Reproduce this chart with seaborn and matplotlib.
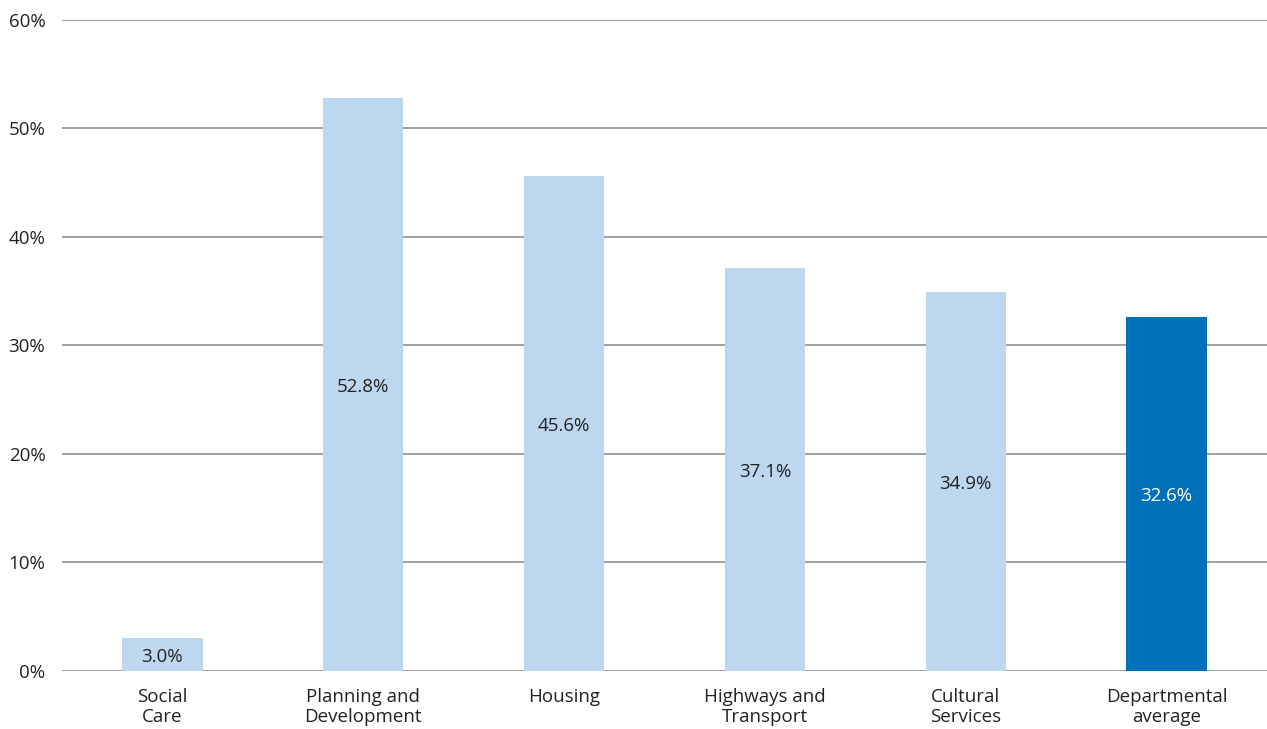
import seaborn as sns
import pandas as pd
import numpy as np
import matplotlib.pyplot as plt
from matplotlib.ticker import PercentFormatter

# Chart values
categories = ['Social\nCare', 'Planning and\nDevelopment', 'Housing',
              'Highways and\nTransport', 'Cultural\nServices', 'Departmental\naverage']
values = [3.0, 52.8, 45.6, 37.1, 34.9, 32.6]
bar_colors = ['#BDD7EE', '#BDD7EE', '#BDD7EE', '#BDD7EE', '#BDD7EE', '#0070BA']
label_colors = ['#222222', '#222222', '#222222', '#222222', '#222222', 'white']

data = pd.DataFrame({'category': categories, 'value': values})

sns.set_style('white')
plt.rcParams['font.family'] = ['Open Sans', 'DejaVu Sans']

fig = plt.figure(figsize=(12.67, 7.29), dpi=100)
ax = fig.add_axes([0.049, 0.0796, 0.951, 0.893])

sns.barplot(data=data, x='category', y='value', hue='category',
            palette=bar_colors, width=0.4, saturation=1, legend=False,
            ax=ax, zorder=3)

for patch in ax.patches:
    patch.set_linewidth(0)

# value labels in the middle of each bar
for i, v in enumerate(values):
    ax.text(i, v / 2, f'{v:.1f}%', ha='center', va='center_baseline',
            fontsize=13.5, color=label_colors[i], zorder=4)

ax.set_ylim(0, 60)
ax.set_xlim(-0.5, len(categories) - 0.5)
ax.set_yticks(np.arange(0, 61, 10))
ax.yaxis.set_major_formatter(PercentFormatter(decimals=0))
ax.yaxis.grid(True, color='#999999', linewidth=1.3, zorder=0)
ax.set_axisbelow(True)
for s in ax.spines.values():
    s.set_visible(False)

ax.tick_params(axis='y', length=0, pad=12, labelsize=13.5, labelcolor='#222222')
ax.tick_params(axis='x', length=0, pad=12, labelsize=13.5, labelcolor='#222222')
for lbl in ax.get_xticklabels():
    lbl.set_linespacing(1.15)
ax.set_xlabel('')
ax.set_ylabel('')

fig.savefig('out.png', dpi=100)
